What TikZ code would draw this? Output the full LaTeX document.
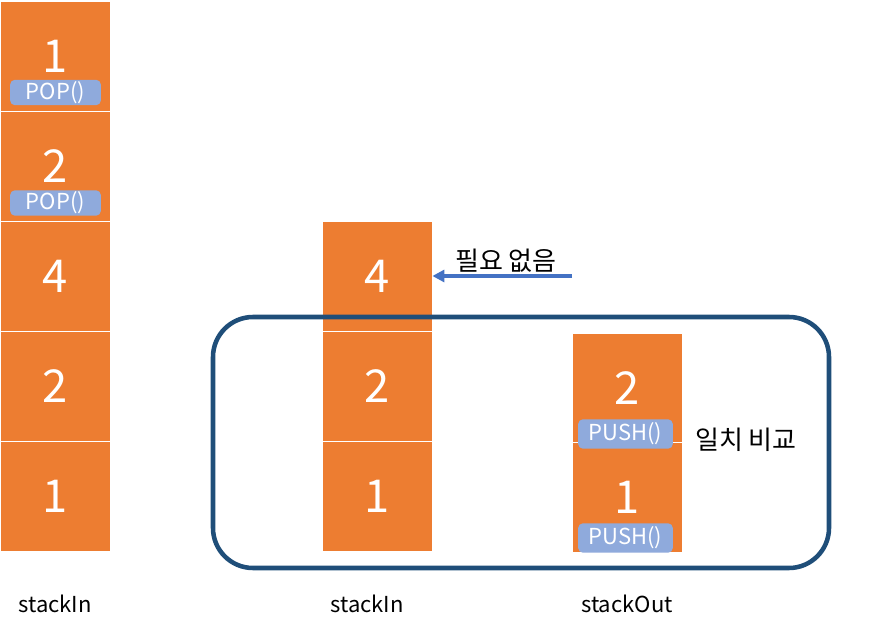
\documentclass[tikz,border=0pt]{standalone}
\usepackage{fontspec}
\setmainfont{Noto Sans CJK KR}
\usetikzlibrary{arrows.meta}

\definecolor{cellorange}{RGB}{237,125,49}
\definecolor{taglblue}{RGB}{143,170,220}
\definecolor{framblue}{RGB}{31,78,121}
\definecolor{arrowblue}{RGB}{68,114,196}

\tikzset{
  cell/.style={draw=white, line width=0.6pt, fill=cellorange, minimum width=82.5pt, minimum height=82.5pt, inner sep=0pt, text=white, font=\fontsize{34}{40}\selectfont},
  tag/.style={fill=taglblue, rounded corners=3.5pt, inner sep=0pt, text=white, font=\fontsize{16.5}{19}\selectfont},
  caption/.style={font=\fontsize{16.5}{19}\selectfont},
  remark/.style={font=\fontsize{19.5}{22}\selectfont},
}

\begin{document}
\begin{tikzpicture}[x=0.75pt,y=0.75pt,yscale=-1,xscale=1]
\useasboundingbox (0,0) rectangle (886,631);

%Shape: left stack
\node[cell] (inA1) at (55.5,56) {1};
\node[cell] (inA2) at (55.5,166) {2};
\node[cell] (inA4) at (55.5,276) {4};
\node[cell] (inA5) at (55.5,386) {2};
\node[cell] (inA6) at (55.5,496) {1};
\node[tag, minimum width=68pt, minimum height=19pt] (popA) at (55.5,92.5) {POP()};
\node[tag, minimum width=68pt, minimum height=19pt] (popB) at (55.5,203) {POP()};

%Shape: middle stack
\node[cell] (inB4) at (377,276) {4};
\node[cell] (inB2) at (377,386) {2};
\node[cell] (inB1) at (377,496) {1};

%Shape: right stack
\node[cell] (outB2) at (627,388) {2};
\node[cell] (outB1) at (627,497.5) {1};
\node[tag, minimum width=71pt, minimum height=22pt] (pushA) at (625.5,434) {PUSH()};
\node[tag, minimum width=71pt, minimum height=22pt] (pushB) at (625.5,538) {PUSH()};

%Shape: Rounded Rectangle
\draw[framblue, line width=3.4pt, rounded corners=30pt] (213,317) rectangle (829,568);

%Straight Lines
\coordinate (noneed) at (572,276);
\draw[arrowblue, line width=2.8pt, -{Triangle[length=9pt,width=9pt]}] (noneed) -- (inB4.east);

% Text Node
\node[remark] (noneedtxt) at (506,261) {필요 없음};
% Text Node
\node[remark] (cmptxt) at (746,440) {일치 비교};
% Text Node
\node[caption] (capA) at (55,604) {stackIn};
% Text Node
\node[caption] (capB) at (367,604) {stackIn};
% Text Node
\node[caption] (capC) at (627,604) {stackOut};

\end{tikzpicture}
\end{document}
